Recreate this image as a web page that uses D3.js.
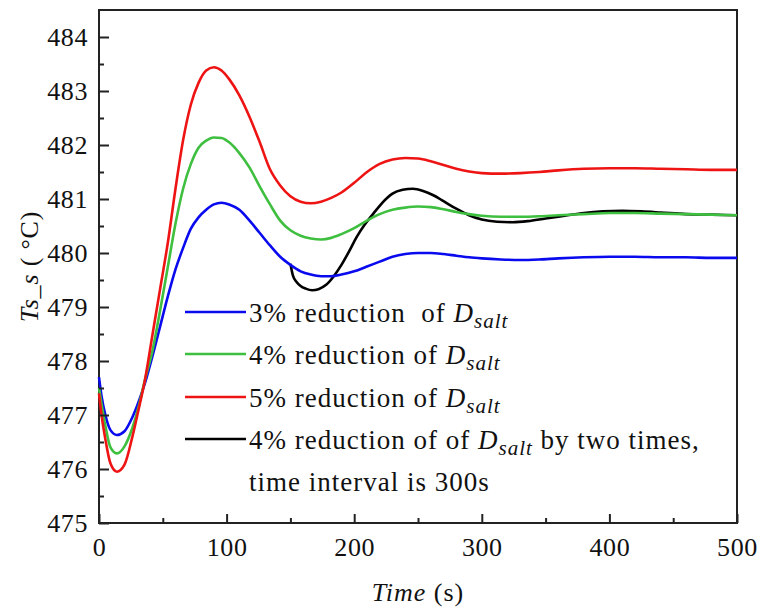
<!DOCTYPE html>
<html>
<head>
<meta charset="utf-8">
<script src="https://cdn.jsdelivr.net/npm/d3@7"></script>
<style>
  html, body { margin: 0; padding: 0; background: #ffffff; }
  svg { display: block; }
  svg text { font-family: "Liberation Serif", "Times New Roman", Times, "DejaVu Serif", "Noto Serif", serif; fill: #111; }
</style>
</head>
<body>
<svg id="chart" width="760" height="614"></svg>
<script>
// ---- data ----
const time = [0, 2, 5, 9, 14, 20, 26, 31, 36, 42, 48, 54, 60, 66, 72, 78, 84, 90, 96, 102, 110, 118, 126, 134, 142, 150, 158, 166, 174, 182, 190, 200, 210, 220, 230, 240, 250, 260, 270, 280, 290, 300, 315, 330, 345, 360, 380, 400, 420, 440, 460, 480, 500];

const blueValues = [477.7, 477.35, 477.0, 476.72, 476.63, 476.7, 476.95, 477.24, 477.59, 478.1, 478.65, 479.2, 479.7, 480.1, 480.45, 480.66, 480.8, 480.9, 480.93, 480.9, 480.8, 480.6, 480.37, 480.14, 479.93, 479.78, 479.66, 479.6, 479.57, 479.57, 479.6, 479.66, 479.75, 479.84, 479.93, 479.98, 480.0, 480.0, 479.98, 479.95, 479.92, 479.9, 479.88, 479.87, 479.88, 479.9, 479.92, 479.93, 479.93, 479.92, 479.92, 479.91, 479.91];

const greenValues = [477.5, 477.2, 476.8, 476.4, 476.29, 476.42, 476.75, 477.15, 477.65, 478.2, 478.95, 479.75, 480.55, 481.2, 481.65, 481.95, 482.08, 482.14, 482.13, 482.05, 481.85, 481.58, 481.23, 480.9, 480.6, 480.42, 480.32, 480.27, 480.25, 480.28, 480.35, 480.46, 480.6, 480.72, 480.8, 480.84, 480.86, 480.85, 480.81, 480.76, 480.72, 480.69, 480.67, 480.67, 480.68, 480.7, 480.72, 480.74, 480.74, 480.73, 480.72, 480.71, 480.7];

const redValues = [477.4, 477.0, 476.55, 476.1, 475.95, 476.08, 476.58, 477.1, 477.65, 478.5, 479.35, 480.2, 481.2, 482.1, 482.75, 483.15, 483.38, 483.44, 483.38, 483.22, 482.92, 482.52, 482.05, 481.55, 481.25, 481.05, 480.95, 480.92, 480.95, 481.02, 481.12, 481.3, 481.5, 481.65, 481.73, 481.76, 481.75, 481.7, 481.63, 481.56, 481.51, 481.48, 481.47, 481.48, 481.5, 481.53, 481.56, 481.57, 481.57, 481.56, 481.55, 481.54, 481.54];

const timeTwoStep = [150, 152, 155, 158, 162, 167, 172, 178, 184, 190, 196, 202, 208, 215, 222, 230, 238, 246, 254, 262, 270, 280, 290, 300, 312, 324, 336, 350, 365, 380, 395, 410, 425, 440, 460, 480, 500];
const blackValues = [479.8, 479.58, 479.46, 479.39, 479.34, 479.31, 479.33, 479.41, 479.57, 479.78, 480.03, 480.3, 480.52, 480.73, 480.93, 481.1, 481.17, 481.19, 481.15, 481.07, 480.96, 480.82, 480.7, 480.62, 480.58, 480.57, 480.59, 480.64, 480.69, 480.74, 480.77, 480.78, 480.77, 480.75, 480.72, 480.71, 480.7];

const xTicks = [0, 100, 200, 300, 400, 500];
const xMinorTicks = [50, 150, 250, 350, 450];
const yTicks = [475, 476, 477, 478, 479, 480, 481, 482, 483, 484];
const yMinorTicks = [475.5, 476.5, 477.5, 478.5, 479.5, 480.5, 481.5, 482.5, 483.5];

const seriesNames = ["3% reduction  of ", "4% reduction of ", "5% reduction of ", "4% reduction of of "];
const seriesColors = ["#0a0aee", "#3fbf3f", "#ee1414", "#000000"];

// ---- layout ----
const svg = d3.select("#chart");
const mLeft = 99, mRight = 737, mTop = 10, mBottom = 523;
const serifStack = "'Liberation Serif', 'Times New Roman', Times, 'DejaVu Serif', 'Noto Serif', serif";

const x = d3.scaleLinear().domain([0, 500]).range([mLeft, mRight]);
const y = d3.scaleLinear().domain([475, 484.5]).range([mBottom, mTop]);

// frame
svg.append("rect")
  .attr("x", mLeft).attr("y", mTop)
  .attr("width", mRight - mLeft).attr("height", mBottom - mTop)
  .attr("fill", "none").attr("stroke", "#222").attr("stroke-width", 2);

// series
const line = d3.line().curve(d3.curveMonotoneX)
  .x(d => x(d[0])).y(d => y(d[1]));

const series = [
  { t: timeTwoStep, v: blackValues, color: seriesColors[3] },
  { t: time, v: blueValues, color: seriesColors[0] },
  { t: time, v: greenValues, color: seriesColors[1] },
  { t: time, v: redValues, color: seriesColors[2] }
];

const plot = svg.append("g");
series.forEach(s => {
  plot.append("path")
    .datum(s.t.map((t, i) => [t, s.v[i]]))
    .attr("fill", "none")
    .attr("stroke", s.color)
    .attr("stroke-width", 2.6)
    .attr("stroke-linejoin", "round")
    .attr("d", line);
});

// axes
const fontTick = 26;
const xAxis = svg.append("g").attr("transform", `translate(0,${mBottom})`)
  .call(d3.axisBottom(x).tickValues(xTicks).tickSize(-9).tickPadding(15).tickFormat(d3.format("d")));
const xMinor = svg.append("g").attr("transform", `translate(0,${mBottom})`)
  .call(d3.axisBottom(x).tickValues(xMinorTicks).tickSize(-5).tickFormat(""));
const yAxis = svg.append("g").attr("transform", `translate(${mLeft},0)`)
  .call(d3.axisLeft(y).tickValues(yTicks).tickSize(-10).tickPadding(11).tickFormat(d3.format("d")));
const yMinor = svg.append("g").attr("transform", `translate(${mLeft},0)`)
  .call(d3.axisLeft(y).tickValues(yMinorTicks).tickSize(-5).tickFormat(""));

[xAxis, xMinor, yAxis, yMinor].forEach(g => {
  g.attr("font-family", serifStack);
  g.select(".domain").remove();
  g.selectAll(".tick line").attr("stroke", "#222").attr("stroke-width", 2);
  g.selectAll(".tick text")
    .attr("font-family", serifStack)
    .attr("font-size", fontTick).attr("fill", "#111")
    .attr("letter-spacing", 0.6);
});

// axis titles
const xt = svg.append("text")
  .attr("x", (mLeft + mRight) / 2).attr("y", 601)
  .attr("font-family", serifStack)
  .attr("letter-spacing", 1)
  .attr("text-anchor", "middle").attr("font-size", 26);
xt.append("tspan").attr("font-style", "italic").text("Time");
xt.append("tspan").text(" (s)");

const yt = svg.append("text")
  .attr("transform", `translate(38,${(mTop + mBottom) / 2}) rotate(-90)`)
  .attr("font-family", serifStack)
  .attr("letter-spacing", 0.8)
  .style("white-space", "pre")
  .attr("text-anchor", "middle").attr("font-size", 26);
yt.append("tspan").attr("font-style", "italic").text("Ts_s");
yt.append("tspan").text(" ( °C)");

// legend
const legendRows = [312, 354, 397, 439];
const lg = svg.append("g").attr("font-family", serifStack);
const fontLeg = 27;
[0, 1, 2, 3].forEach((si, i) => {
  const ly = legendRows[i];
  lg.append("line")
    .attr("x1", 185).attr("x2", 246)
    .attr("y1", ly).attr("y2", ly)
    .attr("stroke", seriesColors[si]).attr("stroke-width", 2.6);
  const t = lg.append("text").attr("x", 249).attr("y", ly + 10)
    .attr("font-size", fontLeg)
    .attr("letter-spacing", 1)
    .style("white-space", "pre");
  t.append("tspan").text(seriesNames[si]);
  t.append("tspan").attr("font-style", "italic").text("D");
  t.append("tspan").attr("font-style", "italic").attr("font-size", fontLeg * 0.78).attr("dy", 6).text("salt");
  if (si === 3) {
    t.append("tspan").attr("dy", -6).text(" by two times,");
  }
});
lg.append("text").attr("x", 249).attr("y", 491)
  .attr("font-size", fontLeg).attr("letter-spacing", 1)
  .text("time interval is 300s");
</script>
</body>
</html>
